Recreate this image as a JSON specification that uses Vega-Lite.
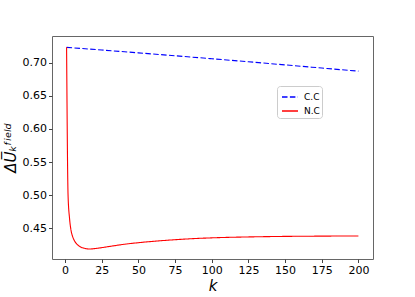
{
  "$schema": "https://vega.github.io/schema/vega-lite/v6.json",
  "autosize": {"type": "none"},
  "width": 321,
  "height": 223,
  "padding": {"left": 52, "top": 36, "right": 42, "bottom": 38},
  "background": "white",
  "config": {
    "font": "DejaVu Sans",
    "view": {"stroke": "#666", "strokeWidth": 1},
    "axis": {"grid": false, "domain": false, "tickColor": "#444", "tickSize": 3.5, "labelColor": "black", "labelFontSize": 11, "labelFont": "DejaVu Sans", "titleColor": "black", "titleFont": "DejaVu Sans", "titleFontWeight": "normal"},
    "legend": {"orient": "none", "legendX": 225, "legendY": 50, "title": null, "padding": 2, "fillColor": "white", "strokeColor": "#ccc", "cornerRadius": 3, "labelFontSize": 9, "labelColor": "black", "symbolType": "stroke", "symbolSize": 256, "symbolStrokeWidth": 1.5, "rowPadding": -6, "labelOffset": 5, "symbolOffset": 2}
  },
  "data": {"values": [
    {"k": 1, "v": 0.7235, "s": "C.C"},
    {"k": 25, "v": 0.7195, "s": "C.C"},
    {"k": 50, "v": 0.7152, "s": "C.C"},
    {"k": 75, "v": 0.7108, "s": "C.C"},
    {"k": 100, "v": 0.7063, "s": "C.C"},
    {"k": 125, "v": 0.7017, "s": "C.C"},
    {"k": 150, "v": 0.6970, "s": "C.C"},
    {"k": 175, "v": 0.6922, "s": "C.C"},
    {"k": 200, "v": 0.6875, "s": "C.C"},
    {"k": 1, "v": 0.7235, "s": "N.C"},
    {"k": 2, "v": 0.500, "s": "N.C"},
    {"k": 3, "v": 0.465, "s": "N.C"},
    {"k": 4, "v": 0.447, "s": "N.C"},
    {"k": 5, "v": 0.438, "s": "N.C"},
    {"k": 6, "v": 0.4325, "s": "N.C"},
    {"k": 7, "v": 0.4285, "s": "N.C"},
    {"k": 8, "v": 0.4258, "s": "N.C"},
    {"k": 9, "v": 0.4238, "s": "N.C"},
    {"k": 10, "v": 0.4222, "s": "N.C"},
    {"k": 12, "v": 0.4202, "s": "N.C"},
    {"k": 14, "v": 0.4190, "s": "N.C"},
    {"k": 16, "v": 0.4185, "s": "N.C"},
    {"k": 18, "v": 0.4186, "s": "N.C"},
    {"k": 20, "v": 0.4190, "s": "N.C"},
    {"k": 25, "v": 0.4205, "s": "N.C"},
    {"k": 30, "v": 0.4222, "s": "N.C"},
    {"k": 40, "v": 0.4255, "s": "N.C"},
    {"k": 50, "v": 0.4280, "s": "N.C"},
    {"k": 60, "v": 0.4300, "s": "N.C"},
    {"k": 75, "v": 0.4325, "s": "N.C"},
    {"k": 90, "v": 0.4344, "s": "N.C"},
    {"k": 100, "v": 0.4353, "s": "N.C"},
    {"k": 125, "v": 0.4367, "s": "N.C"},
    {"k": 150, "v": 0.4375, "s": "N.C"},
    {"k": 175, "v": 0.4379, "s": "N.C"},
    {"k": 200, "v": 0.4382, "s": "N.C"}
  ]},
  "mark": {"type": "line", "interpolate": "monotone", "strokeWidth": 1.1},
  "encoding": {
    "x": {"field": "k", "type": "quantitative", "scale": {"domain": [-8.95, 209.95], "nice": false, "zero": false},
      "axis": {"values": [0, 25, 50, 75, 100, 125, 150, 175, 200], "title": "k", "titleFontSize": 15, "titleFontStyle": "italic", "titlePadding": 3, "labelPadding": 2}},
    "y": {"field": "v", "type": "quantitative", "scale": {"domain": [0.4033, 0.7407], "nice": false, "zero": false},
      "axis": {"values": [0.45, 0.5, 0.55, 0.6, 0.65, 0.7], "format": ".2f", "title": "ΔU̅ₖᶠⁱᵉˡᵈ", "titleFontSize": 15, "titleFontStyle": "italic", "titlePadding": 4, "labelPadding": 2}},
    "color": {"field": "s", "type": "nominal", "scale": {"domain": ["C.C", "N.C"], "range": ["#0000ff", "#ff0000"]}},
    "strokeDash": {"field": "s", "type": "nominal", "scale": {"domain": ["C.C", "N.C"], "range": [[5.5, 2.4], [1, 0]]}}
  }
}
